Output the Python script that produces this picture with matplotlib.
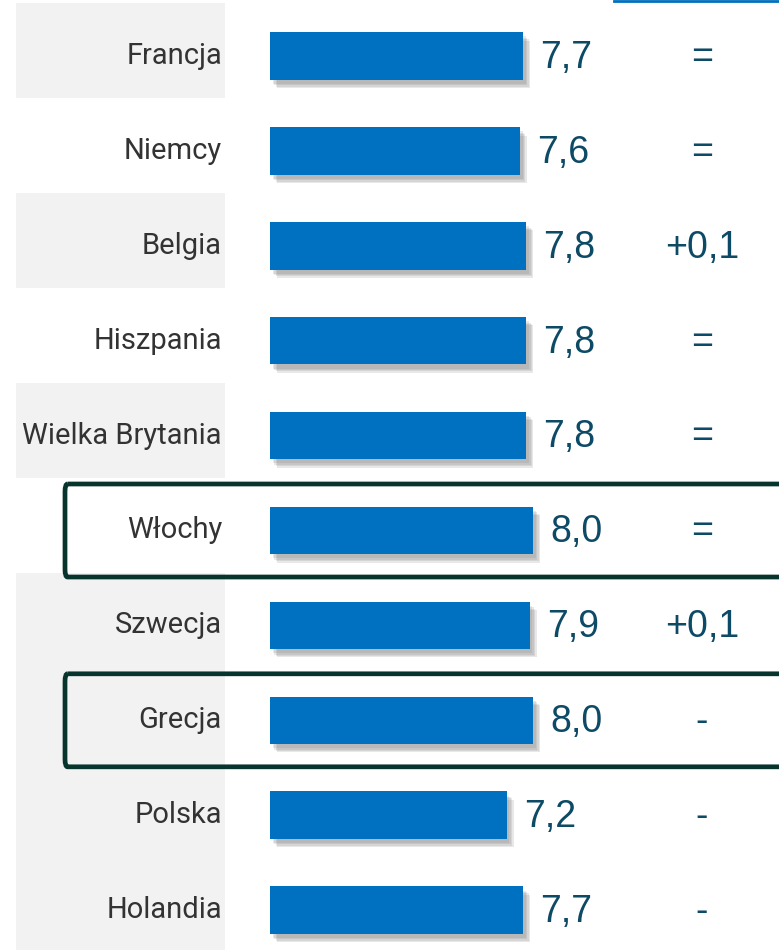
import matplotlib
matplotlib.use("Agg")
import matplotlib.pyplot as plt
import matplotlib.patheffects as pe
from matplotlib.patches import Rectangle, FancyBboxPatch

# data
countries = ["Francja", "Niemcy", "Belgia", "Hiszpania", "Wielka Brytania",
             "Włochy", "Szwecja", "Grecja", "Polska", "Holandia"]
scores = [7.7, 7.6, 7.8, 7.8, 7.8, 8.0, 7.9, 8.0, 7.2, 7.7]
changes = ["=", "=", "+0,1", "=", "=", "=", "+0,1", "-", "-", "-"]
gray_rows = [0, 2, 4, 6, 7, 8, 9]
boxed = ["Włochy", "Grecja"]

BLUE = "#0070C0"
NUM = "#0D4A66"
TXT = "#333333"
BAND = "#F2F2F2"
BOX = "#07352D"

W, H = 779, 950
PX_PER_UNIT = 32.875   # bar scale, value 0 sits at x=270px
X0 = 270
ROW0, ROWH = 56, 94.9

def px(x):
	# figure pixel -> value units
	return (x - X0) / PX_PER_UNIT

fig = plt.figure(figsize=(W / 100, H / 100), dpi=100)
ax = fig.add_axes([0, 0, 1, 1])
ax.set_xlim(px(0), px(W))
ax.set_ylim((H - ROW0) / ROWH, -ROW0 / ROWH)
ax.axis("off")

y = list(range(len(countries)))

# gray bands behind the labels
for i in gray_rows:
	ax.add_patch(Rectangle((px(16), i - 0.555), px(225) - px(16), 1.0,
	                       facecolor=BAND, edgecolor="none", zorder=0))

bars = ax.barh(y, scores, height=0.5, color=BLUE, zorder=3)
# soft-ish drop shadow
shadow = [pe.SimplePatchShadow(offset=(o, -o - 1), shadow_rgbFace="#808080", alpha=0.18)
          for o in (2, 3, 4, 5)]
for b in bars:
	b.set_path_effects(shadow + [pe.Normal()])

for i, (c, s, ch) in enumerate(zip(countries, scores, changes)):
	ax.text(px(222), i, c, ha="right", va="center", fontsize=21,
	        color=TXT, family=["Roboto", "DejaVu Sans"], zorder=4)
	ax.text(s + px(X0 + 17), i + 0.02, ("%.1f" % s).replace(".", ","),
	        ha="left", va="center", fontsize=27, color=NUM,
	        family=["Liberation Sans", "DejaVu Sans"], zorder=4)
	ax.text(px(702), i + 0.02, ch, ha="center", va="center", fontsize=27,
	        color=NUM, family=["Liberation Sans", "DejaVu Sans"], zorder=4)

# highlight boxes
for c in boxed:
	i = countries.index(c)
	ax.add_patch(FancyBboxPatch((px(65), i - 0.49), px(W + 40) - px(65), 0.98,
	                            boxstyle="round,pad=0,rounding_size=0.08",
	                            facecolor="none", edgecolor=BOX, linewidth=3.4,
	                            clip_on=False, zorder=5))

# blue line stub at the top right
fig.add_artist(plt.Line2D([614 / W, 1], [1 - 1.3 / H, 1 - 1.3 / H],
                          color=BLUE, linewidth=2))

fig.savefig("out.png", dpi=100)
